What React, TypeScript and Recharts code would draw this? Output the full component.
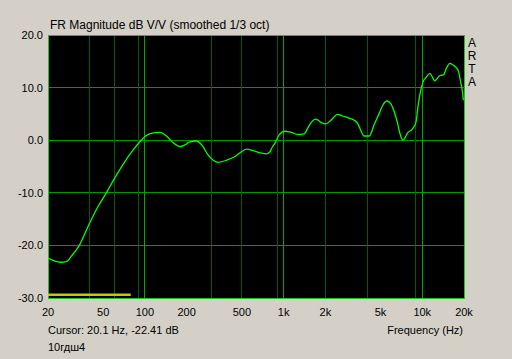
import React from 'react';
import { LineChart, Line, XAxis, YAxis, CartesianGrid, ReferenceArea } from 'recharts';

const freqHz = [
  20, 22, 24.9, 27.1, 29.4, 33.8, 38.9, 45.9, 52.7, 60.5, 71.5, 82, 92, 100, 115, 128, 143, 160, 179, 194,
  211, 236, 257, 286, 311, 338, 389, 446, 485, 542, 604, 676, 750, 797, 834, 866, 930, 1022, 1100, 1162,
  1263, 1409, 1500, 1575, 1711, 1859, 2020, 2195, 2454, 2665, 2974, 3231, 3420, 3611, 3815, 4146, 4505,
  4894, 5178, 5561, 5943, 6279, 6642, 6902, 7250, 7843, 8521, 9003, 9350, 9700, 10100, 10700, 11356,
  11900, 12300, 13400, 14200, 15000, 15800, 16700, 17600, 18300, 18900, 19500, 19800,
];
const magDb = [
  -22.4, -22.9, -23.2, -23.1, -22.1, -19.9, -16.4, -12.6, -10.0, -7.2, -4.1, -1.9, -0.3, 0.7, 1.4, 1.5, 0.8,
  -0.5, -1.2, -0.9, -0.3, -0.15, -0.9, -2.85, -3.8, -4.2, -3.8, -3.1, -2.4, -1.7, -2.0, -2.4, -2.6, -2.2,
  -1.2, -0.6, 1.0, 1.7, 1.6, 1.4, 1.1, 1.2, 2.4, 3.3, 4.0, 3.4, 3.1, 3.8, 4.9, 4.6, 4.2, 3.8, 3.2, 1.8, 0.8,
  0.8, 3.0, 5.1, 6.6, 7.45, 6.9, 5.4, 3.2, 1.3, 0.0, 1.4, 2.2, 3.4, 6.7, 9.2, 11.0, 12.0, 12.7, 11.9, 11.3,
  12.3, 12.4, 13.8, 14.6, 14.3, 13.8, 13.0, 11.1, 9.2, 7.6,
];
const markerFreq = [20, 79];
const markerDb = [-29.4, -29.4];

const xLabelTicks = [20, 50, 100, 200, 500, 1000, 2000, 5000, 10000, 20000];
const minorGrid = [
  30, 40, 50, 60, 70, 80, 90, 200, 300, 400, 500, 600, 700, 800, 900,
  2000, 3000, 4000, 5000, 6000, 7000, 8000, 9000,
];
const majorGrid = [100, 1000, 10000];
const yTicks = [-30, -20, -10, 0, 10, 20];

const curve = freqHz.map((f, i) => ({ f, v: magDb[i] }));
const marker = markerFreq.map((f, i) => ({ f, v: markerDb[i] }));

const FONT = '"Liberation Sans", Arial, sans-serif';
const fmtX = (v: number) => (v >= 1000 ? `${v / 1000}k` : `${v}`);

export default function App() {
  return (
    <div
      style={{
        position: 'absolute',
        left: 0,
        top: 0,
        width: 512,
        height: 359,
        background: '#D4D0C8',
        fontFamily: FONT,
      }}
    >
      <style>{`.recharts-cartesian-grid line,.recharts-reference-area-rect{shape-rendering:crispEdges}`}</style>
      <LineChart width={512} height={359} margin={{ top: 35, right: 48, left: 0, bottom: 0 }}>
        <XAxis
          dataKey="f"
          type="number"
          scale="log"
          domain={[20, 20000]}
          ticks={xLabelTicks}
          tickFormatter={fmtX}
          allowDataOverflow
          height={61}
          axisLine={false}
          tickLine={false}
          tickSize={0}
          tickMargin={10}
          interval={0}
          tick={{ fill: '#000', fontSize: 11, fontFamily: FONT }}
        />
        <XAxis xAxisId="minor" dataKey="f" type="number" scale="log" domain={[20, 20000]} ticks={minorGrid} hide allowDataOverflow />
        <XAxis xAxisId="major" dataKey="f" type="number" scale="log" domain={[20, 20000]} ticks={majorGrid} hide allowDataOverflow />
        <YAxis
          type="number"
          domain={[-30, 20]}
          ticks={yTicks}
          tickFormatter={(v: number) => v.toFixed(1)}
          width={48}
          axisLine={false}
          tickLine={false}
          tickSize={0}
          tickMargin={5}
          interval={0}
          allowDataOverflow
          tick={{ fill: '#000', fontSize: 11, fontFamily: FONT }}
        />
        <CartesianGrid fill="#000" stroke="#009A00" vertical={false} />
        <CartesianGrid xAxisId="minor" horizontal={false} stroke="#005C00" />
        <CartesianGrid xAxisId="major" horizontal={false} stroke="#00A800" />
        <ReferenceArea x1={20} x2={20000} y1={-30} y2={20} fill="none" stroke="#20C020" strokeWidth={1} ifOverflow="visible" />
        <Line
          data={marker}
          dataKey="v"
          type="linear"
          stroke="#C8C800"
          strokeWidth={2.5}
          dot={false}
          isAnimationActive={false}
        />
        <Line
          data={curve}
          dataKey="v"
          type="monotone"
          stroke="#00FF00"
          strokeWidth={1.3}
          dot={false}
          isAnimationActive={false}
        />
      </LineChart>
      <svg
        width={512}
        height={359}
        style={{ position: 'absolute', left: 0, top: 0, pointerEvents: 'none' }}
        fontFamily={FONT}
        fontSize={11}
        fill="#000"
      >
        <text x={50} y={29} fontSize={12}>FR Magnitude dB V/V (smoothed 1/3 oct)</text>
        <text x={48} y={334}>Cursor: 20.1 Hz, -22.41 dB</text>
        <text x={48} y={351}>10гдш4</text>
        <text x={463} y={334} textAnchor="end">Frequency (Hz)</text>
        <g fontSize={12} textAnchor="middle">
          <text x={472} y={47}>A</text>
          <text x={472} y={60}>R</text>
          <text x={472} y={73}>T</text>
          <text x={472} y={86}>A</text>
        </g>
      </svg>
    </div>
  );
}
